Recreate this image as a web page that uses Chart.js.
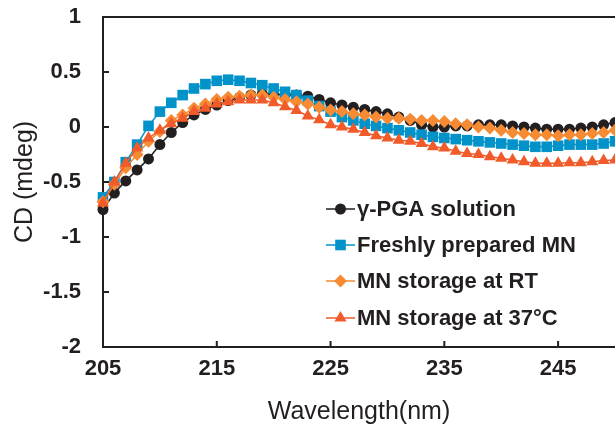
<!DOCTYPE html>
<html lang="en">
<head>
<meta charset="UTF-8">
<title>CD spectra</title>
<script src="https://cdn.jsdelivr.net/npm/chart.js"></script>
<style>
  html, body { margin: 0; padding: 0; background: #fff; }
  .chart-container { width: 615px; height: 433px; position: relative; }
</style>
</head>
<body>
<div class="chart-container"><canvas id="cdChart"></canvas></div>
<script>
// wavelength (nm), one reading per nm
const wavelengths = [205, 206, 207, 208, 209, 210, 211, 212, 213, 214,
  215, 216, 217, 218, 219, 220, 221, 222, 223, 224,
  225, 226, 227, 228, 229, 230, 231, 232, 233, 234,
  235, 236, 237, 238, 239, 240, 241, 242, 243, 244,
  245, 246, 247, 248, 249, 250];

const pgaSolution = [-0.75, -0.60, -0.49, -0.39, -0.29, -0.16, -0.05, 0.04, 0.11, 0.16,
  0.20, 0.24, 0.27, 0.29, 0.30, 0.30, 0.29, 0.29, 0.28, 0.25,
  0.22, 0.20, 0.18, 0.16, 0.14, 0.12, 0.09, 0.06, 0.02, 0.00,
  0.00, 0.01, 0.01, 0.02, 0.02, 0.02, 0.01, 0.00, -0.01, -0.02,
  -0.02, -0.02, -0.01, 0.00, 0.02, 0.04];

const freshMN = [-0.64, -0.50, -0.32, -0.16, 0.01, 0.14, 0.22, 0.29, 0.35, 0.39,
  0.42, 0.43, 0.42, 0.40, 0.38, 0.35, 0.32, 0.29, 0.24, 0.19,
  0.14, 0.09, 0.06, 0.03, 0.01, -0.01, -0.03, -0.05, -0.07, -0.09,
  -0.10, -0.11, -0.12, -0.13, -0.14, -0.15, -0.16, -0.17, -0.18, -0.18,
  -0.17, -0.16, -0.16, -0.16, -0.15, -0.13];

const storageRT = [-0.68, -0.52, -0.37, -0.25, -0.13, -0.04, 0.06, 0.11, 0.17, 0.21,
  0.25, 0.27, 0.28, 0.29, 0.29, 0.27, 0.25, 0.23, 0.21, 0.18,
  0.155, 0.14, 0.12, 0.11, 0.09, 0.08, 0.08, 0.07, 0.06, 0.06,
  0.05, 0.03, 0.02, 0.00, -0.01, -0.03, -0.05, -0.06, -0.07, -0.07,
  -0.08, -0.07, -0.07, -0.06, -0.05, -0.03];

const storage37 = [-0.69, -0.50, -0.33, -0.19, -0.10, -0.03, 0.03, 0.08, 0.14, 0.17,
  0.21, 0.23, 0.245, 0.245, 0.245, 0.22, 0.185, 0.15, 0.10, 0.065,
  0.02, 0.00, -0.02, -0.05, -0.08, -0.10, -0.12, -0.13, -0.15, -0.18,
  -0.19, -0.22, -0.24, -0.25, -0.27, -0.285, -0.30, -0.315, -0.33, -0.33,
  -0.33, -0.325, -0.325, -0.315, -0.305, -0.30];

const seriesLabels = ['\u03b3-PGA solution', 'Freshly prepared MN', 'MN storage at RT', 'MN storage at 37\u00b0C'];
const xTicks = [205, 215, 225, 235, 245];
const yTicks = [1, 0.5, 0, -0.5, -1, -1.5, -2];

const ink = '#231f20';
const fontFamily = '"Liberation Sans", Arial, sans-serif';

const toPoints = vals => vals.map((v, i) => ({ x: wavelengths[i], y: v }));

const styles = [
  { color: '#231f20', shape: 'circle', r: 5.5 },
  { color: '#0092c8', shape: 'rect', r: 7.5 },
  { color: '#f68b33', shape: 'rectRot', r: 6.5 },
  { color: '#f15a29', shape: 'triangle', r: 7 }
];
const allSeries = [pgaSolution, freshMN, storageRT, storage37];

const datasets = allSeries.map((vals, i) => ({
  label: seriesLabels[i],
  data: toPoints(vals),
  borderColor: styles[i].color,
  backgroundColor: styles[i].color,
  borderWidth: 1.5,
  pointStyle: styles[i].shape,
  pointRadius: styles[i].r,
  pointBorderWidth: 0,
  pointHoverRadius: styles[i].r,
  tension: 0,
  clip: false,
  order: 4 - i   // first series at the bottom, like the original
}));

// draw a marker by hand for the legend
function marker(ctx, shape, x, y, r) {
  ctx.beginPath();
  if (shape === 'circle') {
    ctx.arc(x, y, r, 0, Math.PI * 2);
  } else if (shape === 'rect') {
    const s = r * Math.SQRT1_2;
    ctx.rect(x - s, y - s, 2 * s, 2 * s);
  } else if (shape === 'rectRot') {
    ctx.moveTo(x, y - r); ctx.lineTo(x + r, y); ctx.lineTo(x, y + r); ctx.lineTo(x - r, y);
    ctx.closePath();
  } else {
    ctx.moveTo(x, y - r);
    ctx.lineTo(x + r * 0.866, y + r * 0.5);
    ctx.lineTo(x - r * 0.866, y + r * 0.5);
    ctx.closePath();
  }
  ctx.fill();
}

const framePlugin = {
  id: 'frame',
  beforeDatasetsDraw(chart) {
    const { ctx, chartArea: a, scales } = chart;
    ctx.save();
    ctx.strokeStyle = ink;
    ctx.lineWidth = 2;
    ctx.beginPath();
    ctx.moveTo(a.right + 10, a.top);
    ctx.lineTo(a.left, a.top);
    ctx.lineTo(a.left, a.bottom);
    ctx.lineTo(a.right + 10, a.bottom);
    yTicks.forEach(v => {
      const y = scales.y.getPixelForValue(v);
      ctx.moveTo(a.left, y); ctx.lineTo(a.left + 6, y);
    });
    xTicks.forEach(v => {
      const x = scales.x.getPixelForValue(v);
      ctx.moveTo(x, a.bottom); ctx.lineTo(x, a.bottom - 6);
    });
    ctx.stroke();
    ctx.restore();
  }
};

const legendPlugin = {
  id: 'insideLegend',
  afterDraw(chart) {
    const ctx = chart.ctx;
    const rows = [209, 245, 281, 318];
    ctx.save();
    ctx.font = 'bold 22px ' + fontFamily;
    ctx.textBaseline = 'middle';
    ctx.textAlign = 'left';
    seriesLabels.forEach((lab, i) => {
      const y = rows[i];
      const st = styles[i];
      ctx.strokeStyle = st.color;
      ctx.fillStyle = st.color;
      ctx.lineWidth = 1.5;
      ctx.beginPath();
      ctx.moveTo(326, y); ctx.lineTo(355, y);
      ctx.stroke();
      marker(ctx, st.shape, 340.5, y, st.r);
      ctx.fillStyle = ink;
      ctx.fillText(lab, 357, y + 1);
    });
    ctx.restore();
  }
};

Chart.defaults.font.family = fontFamily;
Chart.defaults.color = ink;

// keep the tick labels from pushing the plot box around
const noPad = s => { s.paddingTop = 0; s.paddingBottom = 0; s.paddingLeft = 0; s.paddingRight = 0; };

new Chart(document.getElementById('cdChart').getContext('2d'), {
  type: 'line',
  data: { datasets: datasets },
  options: {
    responsive: true,
    maintainAspectRatio: false,
    animation: false,
    layout: { autoPadding: false, padding: { top: 17, right: 0, left: 0, bottom: 0 } },
    plugins: {
      legend: { display: false },
      tooltip: { enabled: false }
    },
    scales: {
      x: {
        type: 'linear',
        min: 205,
        max: 250,
        grid: { display: false, drawTicks: false },
        border: { display: false },
        afterBuildTicks: s => { s.ticks = xTicks.map(v => ({ value: v })); },
        afterFit: s => { s.height = 86; noPad(s); },
        ticks: { font: { size: 22, weight: 'bold' }, padding: 9, maxRotation: 0, autoSkip: false },
        title: { display: true, text: 'Wavelength(nm)', font: { size: 25 }, padding: { top: 0, bottom: 6 } }
      },
      y: {
        min: -2,
        max: 1,
        grid: { display: false, drawTicks: false },
        border: { display: false },
        afterBuildTicks: s => { s.ticks = yTicks.map(v => ({ value: v })); },
        afterFit: s => { s.width = 103; noPad(s); },
        ticks: { font: { size: 22, weight: 'bold' }, padding: 22, callback: v => String(v) },
        title: { display: true, text: 'CD (mdeg)', font: { size: 25 }, padding: { top: 10, bottom: 0 } }
      }
    }
  },
  plugins: [framePlugin, legendPlugin]
});
</script>
</body>
</html>
